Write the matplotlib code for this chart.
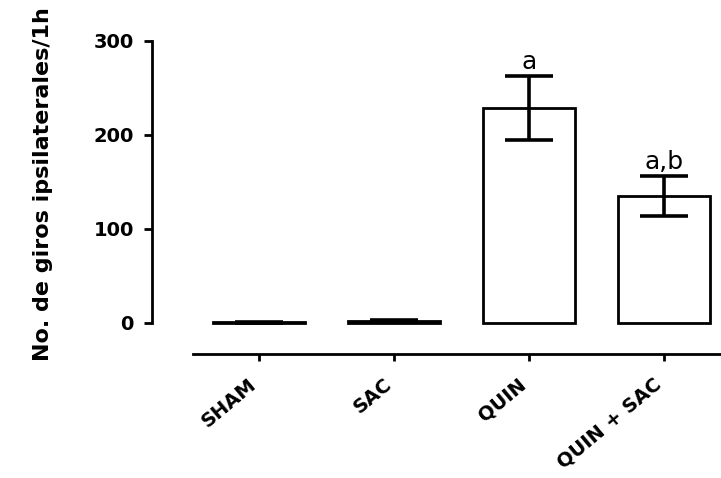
import numpy as np
import matplotlib
matplotlib.use("Agg")
import matplotlib.pyplot as plt
import matplotlib.transforms as mtransforms

plt.rcParams['font.family'] = ['DejaVu Sans']

# group means and SEM (turns per hour)
groups = ["SHAM", "SAC", "QUIN", "QUIN + SAC"]
means = [1, 2, 229, 135]
sem = [0.5, 1, 34, 21.5]
letters = ["", "", "a", "a,b"]

W, H = 721, 478
fig = plt.figure(figsize=(W/100, H/100), dpi=100)

# pixel layout of the axes box
x0_px, x1_px = 152, 721
y0_px, y1_px = 354, 41
ax = fig.add_axes([x0_px/W, 1 - y0_px/H, (x1_px - x0_px)/W, (y0_px - y1_px)/H])

px_per_bar = 135.0
zero_x = 259
zero_y = 323
px_per_unit = (zero_y - y1_px) / 300.0

x = np.arange(len(groups))
ax.bar(x, means, width=0.68, color='white', edgecolor='black', linewidth=2.0, zorder=2)
ax.errorbar(x, means, yerr=sem, fmt='none', ecolor='black', elinewidth=2.6,
            capsize=17, capthick=2.6, zorder=3)

for xi, m, e, lab in zip(x, means, sem, letters):
    if lab:
        ax.annotate(lab, (xi, m + e), xytext=(0, 7), textcoords='offset pixels',
                    ha='center', va='baseline', fontsize=18, annotation_clip=False)

ax.set_xlim((x0_px - zero_x)/px_per_bar, (x1_px - zero_x)/px_per_bar)
ax.set_ylim(-(y0_px - zero_y)/px_per_unit, 300)

for s in ['top', 'right']:
    ax.spines[s].set_visible(False)
ax.spines['left'].set_bounds(0, 300)
ax.spines['bottom'].set_bounds((193 - zero_x)/px_per_bar, ax.get_xlim()[1])
for s in ['left', 'bottom']:
    ax.spines[s].set_linewidth(2.0)

ax.set_yticks([0, 100, 200, 300])
ax.tick_params(axis='y', length=6, width=2.0, pad=7, labelsize=14)
for t in ax.get_yticklabels():
    t.set_fontweight('bold')

ax.set_xticks(x)
ax.set_xticklabels(groups, rotation=40, ha='right', va='center',
                   rotation_mode='anchor', fontsize=14, fontweight='bold')
ax.tick_params(axis='x', length=5, width=2.0, pad=15)
shift = mtransforms.ScaledTranslation(-5/100, 0, fig.dpi_scale_trans)
for t in ax.get_xticklabels():
    t.set_transform(t.get_transform() + shift)

fig.text(43/W, 1 - 184/H, "No. de giros ipsilaterales/1h", rotation=90,
         ha='center', va='center', fontsize=16, fontweight='bold')

fig.savefig("out.png", dpi=100)
